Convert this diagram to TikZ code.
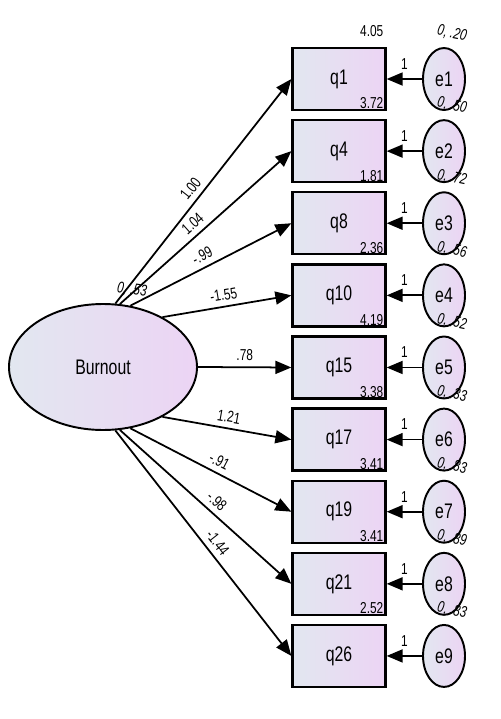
\documentclass[tikz,border=0pt]{standalone}
\usepackage{fontspec}
\setmainfont{Liberation Sans}[FakeStretch=0.75]
\usetikzlibrary{arrows.meta,positioning,calc,shapes.geometric}
\usepackage{xcolor}
\definecolor{semleft}{RGB}{226,231,240}
\definecolor{semright}{RGB}{236,212,244}
\tikzset{
    item/.style={
        draw=black,line width=1.3pt,left color=semleft,right color=semright,
        minimum width=1.86cm,minimum height=1.24cm,inner sep=0pt,
        font=\fontsize{12}{14}\selectfont
    },
    errc/.style={
        ellipse,draw=black,line width=1.1pt,left color=semleft,right color=semright,
        minimum width=0.84cm,minimum height=1.24cm,inner sep=0pt,
        font=\fontsize{12}{14}\selectfont
    },
    factor/.style={
        ellipse,draw=black,line width=1.1pt,left color=semleft,right color=semright,
        minimum width=3.76cm,minimum height=2.52cm,inner sep=0pt,
        font=\fontsize{12}{14}\selectfont
    },
    load/.style={
        -{Triangle[length=0.32cm,width=0.26cm]},line width=1pt,draw=black
    },
    est/.style={font=\fontsize{9}{10}\selectfont,inner sep=2pt},
    varlab/.style={font=\fontsize{9}{10}\selectfont\itshape,inner sep=0pt,rotate=-12}
}

\begin{document}
\begin{tikzpicture}
\useasboundingbox (0,0) rectangle (10.02,-14.38);

\node[factor] (B) at (2.06,-7.34) {Burnout};
\node[varlab,rotate=4] (bvar) at ($(B.north)+(0.58,0.26)$) {0, .53};

% indicators, errors, loadings
\foreach \q/\e/\k/\a/\w/\p/\i/\v in {
    1/1/0/79/1.00/.48/4.05/.20,
    4/2/1/75/1.04/.47/3.72/.50,
    8/3/2/66/-.99/.48/1.81/.72,
    10/4/3/40/-1.55/.49/2.36/.56,
    15/5/4/0/.78/.5/4.19/.52,
    17/6/5/320/1.21/.5/3.38/.33,
    19/7/6/294/-.91/.52/3.41/.83,
    21/8/7/285/-.98/.52/3.41/.89,
    26/9/8/281/-1.44/.53/2.52/.83}
{
    \pgfmathsetmacro\y{-(79+72.1*\k)*0.02}
    \node[item] (q\q) at (6.78,\y) {q\q};
    \node[errc] (e\e) at (8.88,\y) {e\e};
    \draw[load] (B.\a) -- node[est,sloped,above,pos=\p,inner sep=3pt]{\w} (q\q.west);
    \draw[load] (e\e) -- node[est,above,yshift=3pt]{1} (q\q);
    \node[est,anchor=base east,inner sep=0pt] (i\q) at ($(q\q.north east)+(-0.06,0.2)$) {\i};
    \node[varlab] (v\e) at ($(e\e.north)+(0.16,0.27)$) {0, \v};
}

\end{tikzpicture}
\end{document}
